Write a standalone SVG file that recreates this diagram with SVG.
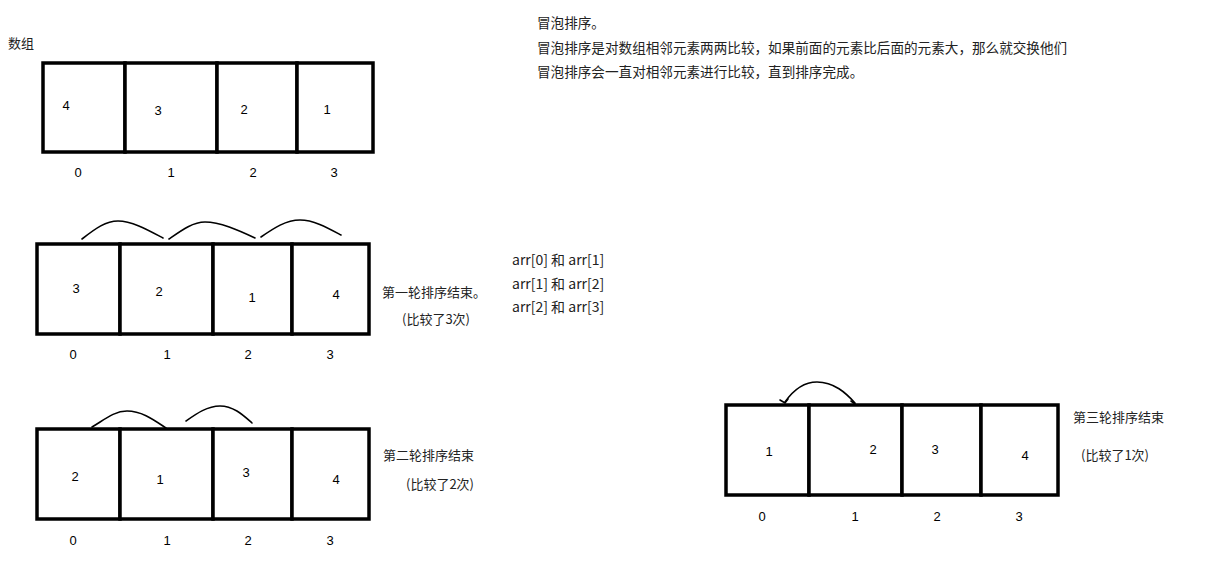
<svg xmlns="http://www.w3.org/2000/svg" width="1208" height="565" viewBox="0 0 1208 565">
<style>
.bg{fill:#fff}
.cell{fill:#fff;stroke:#000;stroke-width:3.5}
.t{font-family:"Liberation Sans","Noto Sans CJK SC",sans-serif;font-size:13px;fill:#000}
.n{text-anchor:middle;dominant-baseline:central}
.cn{font-family:"Noto Sans CJK SC","Liberation Sans",sans-serif;font-size:13px;fill:#222;dominant-baseline:central}
.top{font-size:13.6px}
.pr{font-size:14px}
.arc{fill:none;stroke:#000;stroke-width:1.6;stroke-linecap:round}
</style>
<rect class="bg" x="0" y="0" width="1208" height="565"/>

<text class="cn" x="8" y="42">数组</text>

<g id="array0">
  <g id="a0c0"><rect class="cell" x="43" y="63" width="82" height="89"/><text class="t n" x="66" y="105">4</text></g>
  <g id="a0c1"><rect class="cell" x="125" y="63" width="92" height="89"/><text class="t n" x="158" y="110">3</text></g>
  <g id="a0c2"><rect class="cell" x="217" y="63" width="80" height="89"/><text class="t n" x="244" y="109">2</text></g>
  <g id="a0c3"><rect class="cell" x="297" y="63" width="76" height="89"/><text class="t n" x="327" y="109">1</text></g>
  <text class="t n" x="78" y="172">0</text>
  <text class="t n" x="171" y="172">1</text>
  <text class="t n" x="253" y="172">2</text>
  <text class="t n" x="334" y="172">3</text>
</g>

<g id="desc">
  <text class="cn top" x="537" y="22">冒泡排序。</text>
  <text class="cn top" x="537" y="47">冒泡排序是对数组相邻元素两两比较，如果前面的元素比后面的元素大，那么就交换他们</text>
  <text class="cn top" x="537" y="71">冒泡排序会一直对相邻元素进行比较，直到排序完成。</text>
</g>

<g id="array1">
  <g id="a1c0"><rect class="cell" x="37" y="244" width="83" height="90"/><text class="t n" x="76" y="288">3</text></g>
  <g id="a1c1"><rect class="cell" x="120" y="244" width="93" height="90"/><text class="t n" x="159" y="291">2</text></g>
  <g id="a1c2"><rect class="cell" x="213" y="244" width="79" height="90"/><text class="t n" x="252" y="297">1</text></g>
  <g id="a1c3"><rect class="cell" x="292" y="244" width="77" height="90"/><text class="t n" x="336" y="294">4</text></g>
  <text class="t n" x="73" y="354">0</text>
  <text class="t n" x="167" y="354">1</text>
  <text class="t n" x="248" y="354">2</text>
  <text class="t n" x="330" y="354">3</text>
  <text class="cn" x="382" y="291">第一轮排序结束。</text>
  <text class="cn" x="402" y="318">(比较了3次)</text>
</g>

<g id="pairs">
  <text class="cn pr" x="512" y="259">arr[0] 和 arr[1]</text>
  <text class="cn pr" x="512" y="283">arr[1] 和 arr[2]</text>
  <text class="cn pr" x="512" y="306">arr[2] 和 arr[3]</text>
</g>

<g id="array2">
  <g id="a2c0"><rect class="cell" x="37" y="429" width="83" height="90"/><text class="t n" x="75" y="476">2</text></g>
  <g id="a2c1"><rect class="cell" x="120" y="429" width="93" height="90"/><text class="t n" x="160" y="479">1</text></g>
  <g id="a2c2"><rect class="cell" x="213" y="429" width="79" height="90"/><text class="t n" x="246" y="472">3</text></g>
  <g id="a2c3"><rect class="cell" x="292" y="429" width="77" height="90"/><text class="t n" x="336" y="479">4</text></g>
  <text class="t n" x="73" y="540">0</text>
  <text class="t n" x="167" y="540">1</text>
  <text class="t n" x="248" y="540">2</text>
  <text class="t n" x="330" y="540">3</text>
  <text class="cn" x="383" y="454">第二轮排序结束</text>
  <text class="cn" x="406" y="483">(比较了2次)</text>
</g>

<g id="array3">
  <g id="a3c0"><rect class="cell" x="726" y="405" width="83" height="90"/><text class="t n" x="769" y="451">1</text></g>
  <g id="a3c1"><rect class="cell" x="809" y="405" width="93" height="90"/><text class="t n" x="873" y="449">2</text></g>
  <g id="a3c2"><rect class="cell" x="902" y="405" width="79" height="90"/><text class="t n" x="935" y="449">3</text></g>
  <g id="a3c3"><rect class="cell" x="981" y="405" width="77" height="90"/><text class="t n" x="1025" y="455">4</text></g>
  <text class="t n" x="762" y="516">0</text>
  <text class="t n" x="855" y="516">1</text>
  <text class="t n" x="937" y="516">2</text>
  <text class="t n" x="1019" y="516">3</text>
  <text class="cn" x="1073" y="416">第三轮排序结束</text>
  <text class="cn" x="1081" y="454">(比较了1次)</text>
</g>

<g id="connectors">
  <path class="arc" d="M82,239 C96,228 106,221 118,221 C132,221 148,230 163,238"/>
  <path class="arc" d="M169,239 C182,230 193,222 205,222 C220,222 238,230 255,238"/>
  <path class="arc" d="M261,237 C274,228 286,220 300,220 C314,220 328,228 341,235"/>
  <path class="arc" d="M92,427 C104,420 114,411 127,411 C142,411 154,420 166,428"/>
  <path class="arc" d="M186,421 C196,414 207,406 220,406 C234,406 244,416 252,423"/>
  <path class="arc" d="M785,402 C792,392 803,382 817,382 C834,382 846,393 855,403"/>
  <path class="arc" d="M780,400 L785,403 L788,399"/>
  <path class="arc" d="M851,401 L855,404"/>
</g>
</svg>
